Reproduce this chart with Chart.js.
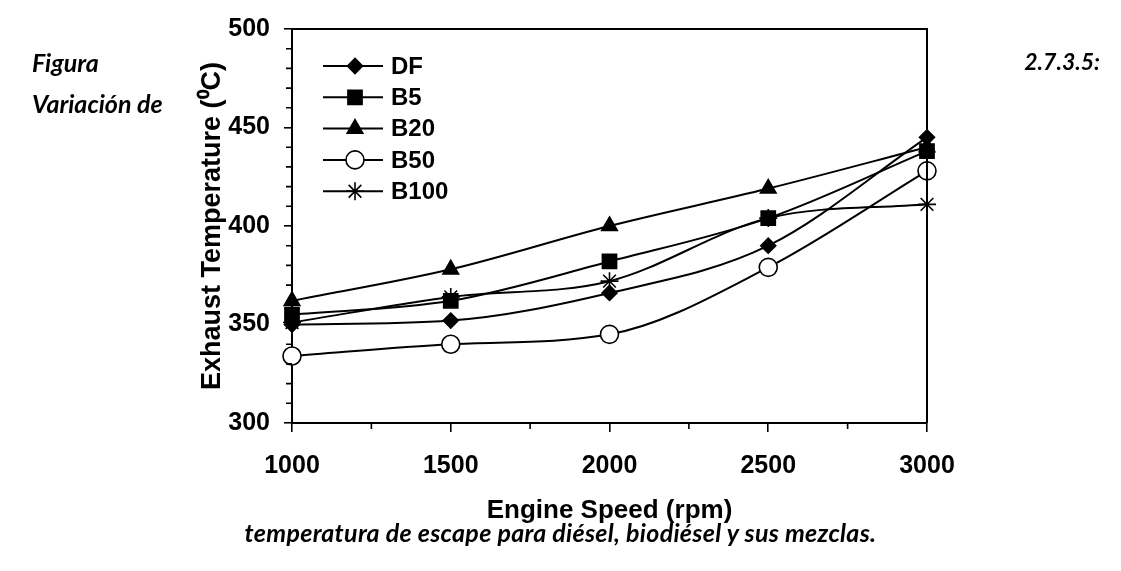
<!DOCTYPE html>
<html>
<head>
<meta charset="utf-8">
<script src="https://cdn.jsdelivr.net/npm/chart.js@4/dist/chart.umd.min.js"></script>
<style>
  html, body { margin: 0; padding: 0; background: #fff; }
  #wrap { position: relative; width: 1121px; height: 571px; overflow: hidden; }
  canvas { position: absolute; left: 0; top: 0; }
  .cap { position: absolute; font-family: Lato, "Open Sans", sans-serif; font-weight: bold; font-style: italic; font-size: 25px; color: #000; white-space: nowrap; line-height: 1; }
</style>
</head>
<body>
<div id="wrap">
  <canvas id="c" width="1121" height="571"></canvas>
  <div class="cap" style="left:32px; top:50px;">Figura</div>
  <div class="cap" style="left:32px; top:91px;">Variación de</div>
  <div class="cap" style="right:21px; top:50px; font-size:23px;">2.7.3.5:</div>
  <div class="cap" style="left:0; width:1121px; text-align:center; top:520px; font-size:25px; letter-spacing:0.3px;">temperatura de escape para diésel, biodiésel y sus mezclas.</div>
</div>
<script>
const engineSpeed = [1000, 1500, 2000, 2500, 3000];
const seriesNames = ['DF', 'B5', 'B20', 'B50', 'B100'];
const dfTemp   = [350, 352, 366, 390, 445];
const b5Temp   = [355, 362, 382, 404, 438];
const b20Temp  = [362, 378, 400, 419, 440];
const b50Temp  = [334, 340, 345, 379, 428];
const b100Temp = [351, 364, 372, 404, 411];
const xTicks = [1000, 1500, 2000, 2500, 3000];
const yTicks = [300, 350, 400, 450, 500];

const seriesValues = [dfTemp, b5Temp, b20Temp, b50Temp, b100Temp];
const markerStyles = [
  { pointStyle: 'rectRot', radius: 7.5, fill: '#000' },
  { pointStyle: 'rect', radius: 10, fill: '#000' },
  { pointStyle: 'triangle', radius: 9, fill: '#000' },
  { pointStyle: 'circle', radius: 9, fill: '#fff' },
  { pointStyle: 'star', radius: 9, fill: '#000' }
];

const datasets = seriesNames.map((name, i) => ({
  label: name,
  data: engineSpeed.map((x, j) => ({ x: x, y: seriesValues[i][j] })),
  borderColor: '#000',
  borderWidth: 2,
  backgroundColor: markerStyles[i].fill,
  pointStyle: markerStyles[i].pointStyle,
  pointRadius: markerStyles[i].radius,
  pointBackgroundColor: markerStyles[i].fill,
  pointBorderColor: '#000',
  pointBorderWidth: 1.6,
  cubicInterpolationMode: 'monotone',
  fill: false,
  clip: false
}));

const FAMILY = '"Liberation Sans", Arial, sans-serif';

const framePlugin = {
  id: 'frame',
  afterDraw(chart) {
    const ctx = chart.ctx;
    const a = chart.chartArea;
    const xs = chart.scales.x, ys = chart.scales.y;
    ctx.save();
    ctx.strokeStyle = '#000';
    ctx.lineWidth = 2;
    ctx.beginPath();
    ctx.moveTo(a.left, a.top); ctx.lineTo(a.right, a.top); ctx.lineTo(a.right, a.bottom);
    ctx.stroke();
    // minor ticks
    ctx.lineWidth = 1.6;
    ctx.beginPath();
    for (let k = 0; k < xTicks.length - 1; k++) {
      const v = (xTicks[k] + xTicks[k + 1]) / 2;
      const px = xs.getPixelForValue(v);
      ctx.moveTo(px, a.bottom); ctx.lineTo(px, a.bottom + 6);
    }
    for (let k = 0; k < yTicks.length - 1; k++) {
      const step = (yTicks[k + 1] - yTicks[k]) / 5;
      for (let m = 1; m < 5; m++) {
        const py = ys.getPixelForValue(yTicks[k] + m * step);
        ctx.moveTo(a.left, py); ctx.lineTo(a.left - 6, py);
      }
    }
    ctx.stroke();
    // legend
    const lx0 = a.left + 31, lx1 = a.left + 91, lm = a.left + 63, tx = a.left + 99;
    chart.data.datasets.forEach((ds, i) => {
      const y = a.top + 37 + i * 31.3;
      ctx.strokeStyle = '#000';
      ctx.lineWidth = 2;
      ctx.beginPath(); ctx.moveTo(lx0, y); ctx.lineTo(lx1, y); ctx.stroke();
      ctx.fillStyle = ds.pointBackgroundColor;
      ctx.lineWidth = ds.pointBorderWidth;
      Chart.helpers.drawPoint(ctx, { pointStyle: ds.pointStyle, radius: ds.pointRadius, borderWidth: ds.pointBorderWidth, rotation: 0 }, lm, y);
      ctx.fillStyle = '#000';
      ctx.font = 'bold 24px ' + FAMILY;
      ctx.textBaseline = 'middle';
      ctx.textAlign = 'left';
      ctx.fillText(ds.label, tx, y + 1);
    });
    ctx.restore();
  }
};

new Chart(document.getElementById('c'), {
  type: 'line',
  data: { datasets: datasets },
  options: {
    responsive: false,
    animation: false,
    events: [],
    layout: { padding: { left: 189, right: 194, top: 23, bottom: 28 } },
    plugins: { legend: { display: false }, tooltip: { enabled: false } },
    scales: {
      x: {
        type: 'linear', min: 1000, max: 3000,
        afterBuildTicks: (s) => { s.ticks = xTicks.map(v => ({ value: v })); },
        afterFit: (s) => { s.height = 120; },
        border: { display: true, color: '#000', width: 2 },
        grid: { display: true, drawOnChartArea: false, drawTicks: true, tickLength: 9, color: '#000', lineWidth: 1.6 },
        ticks: { color: '#000', font: { family: FAMILY, size: 25, weight: 'bold' }, padding: 19, maxRotation: 0, autoSkip: false, callback: (v) => String(v) },
        title: { display: true, text: 'Engine Speed (rpm)', color: '#000', font: { family: FAMILY, size: 26, weight: 'bold' }, padding: { top: 0, bottom: 17 } }
      },
      y: {
        type: 'linear', min: 300, max: 500,
        afterBuildTicks: (s) => { s.ticks = yTicks.map(v => ({ value: v })); },
        afterFit: (s) => { s.width = 103; },
        border: { display: true, color: '#000', width: 2 },
        grid: { display: true, drawOnChartArea: false, drawTicks: true, tickLength: 8, color: '#000', lineWidth: 1.6 },
        ticks: { color: '#000', font: { family: FAMILY, size: 25, weight: 'bold' }, padding: 14, callback: (v) => String(v) },
        title: { display: true, text: 'Exhaust Temperature (\u2070C)', color: '#000', font: { family: FAMILY, size: 27, weight: 'bold' }, padding: { top: 7, bottom: 0 } }
      }
    }
  },
  plugins: [framePlugin]
});
</script>
</body>
</html>
